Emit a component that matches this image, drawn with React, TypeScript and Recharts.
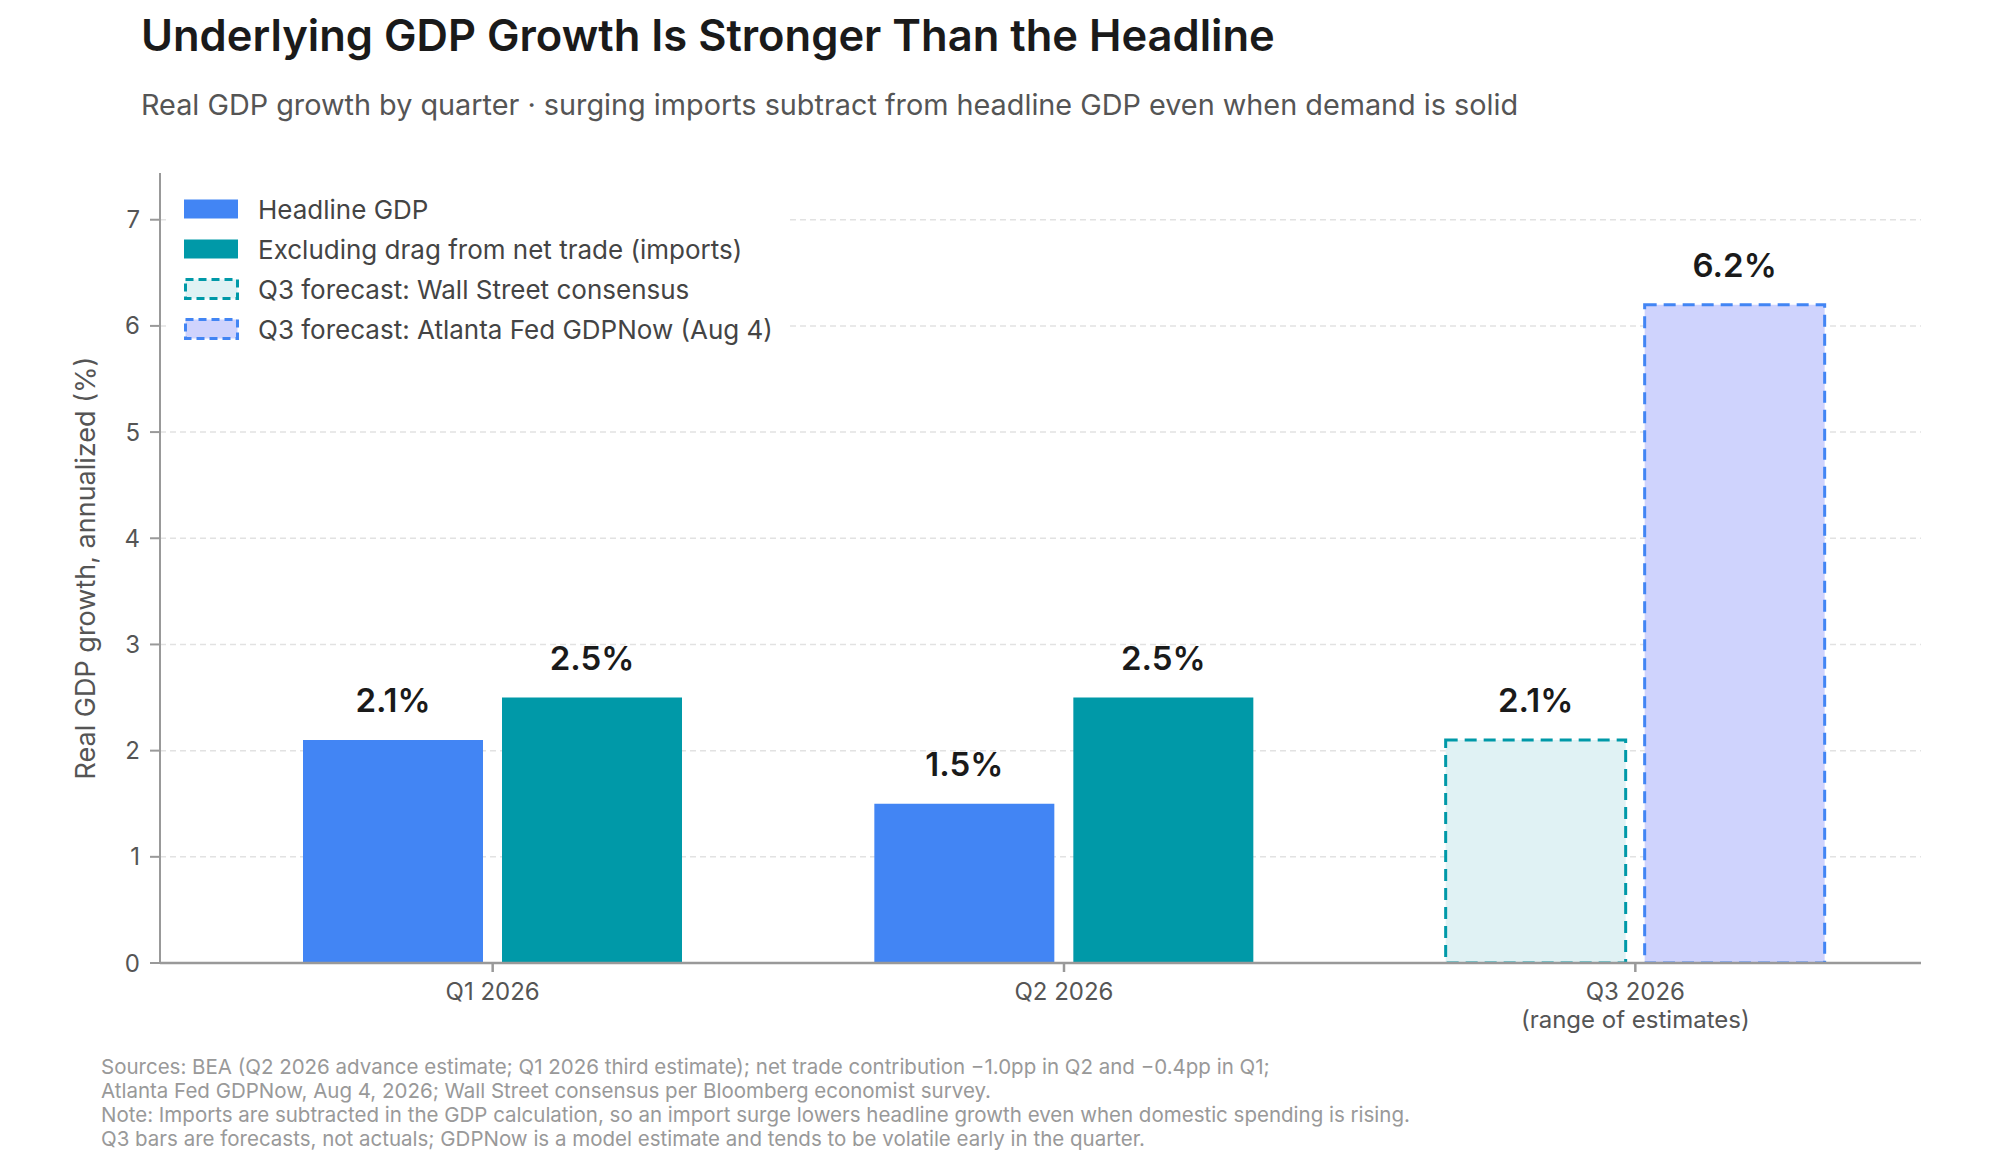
import React from 'react'
import { BarChart, Bar, Cell, XAxis, YAxis, CartesianGrid, Legend, LabelList } from 'recharts'

// values
const quarters = ['Q1 2026', 'Q2 2026', 'Q3 2026']
const quarterNotes = ['', '', '(range of estimates)']
const leftBar = [2.1, 1.5, 2.1] // headline GDP, Q3: Wall Street consensus
const rightBar = [2.5, 2.5, 6.2] // ex net trade, Q3: Atlanta Fed GDPNow
const yTicks = [0, 1, 2, 3, 4, 5, 6, 7]
const legendLabels = [
  'Headline GDP',
  'Excluding drag from net trade (imports)',
  'Q3 forecast: Wall Street consensus',
  'Q3 forecast: Atlanta Fed GDPNow (Aug 4)',
]
const footnotes = [
  'Sources: BEA (Q2 2026 advance estimate; Q1 2026 third estimate); net trade contribution \u22121.0pp in Q2 and \u22120.4pp in Q1;',
  'Atlanta Fed GDPNow, Aug 4, 2026; Wall Street consensus per Bloomberg economist survey.',
  'Note: Imports are subtracted in the GDP calculation, so an import surge lowers headline growth even when domestic spending is rising.',
  'Q3 bars are forecasts, not actuals; GDPNow is a model estimate and tends to be volatile early in the quarter.',
]

const data = quarters.map((q, i) => ({ quarter: q, note: quarterNotes[i], left: leftBar[i], right: rightBar[i] }))

const FONT = 'Inter, "Noto Sans", sans-serif'
const BLUE = '#4285F4'
const TEAL = '#0099A8'
const Y_MAX = 7.44

type Look = { fill: string; stroke?: string }
const looks: Look[] = [
  { fill: BLUE },
  { fill: TEAL },
  { fill: '#E0F2F4', stroke: TEAL },
  { fill: '#CFD3FD', stroke: BLUE },
]
const DASH = '12 7'

const QuarterTick = (props: any) => {
  const { x, y, payload, index } = props
  const note = quarterNotes[index]
  return (
    <text x={x} y={y} textAnchor="middle" fill="#555" fontSize={24} fontFamily={FONT}>
      <tspan x={x} dy={17}>{payload.value}</tspan>
      {note && <tspan x={x} dy={28}>{note}</tspan>}
    </text>
  )
}

// only draw grid lines at the real ticks (not at the top of the domain)
const gridRows = ({ yAxis, offset }: any) => {
  if (yAxis && typeof yAxis.scale === 'function') return yTicks.map((t) => yAxis.scale(t))
  return yTicks.map((t) => offset.top + offset.height * (1 - t / Y_MAX))
}

const renderLegend = () => (
  <div style={{ background: '#fff', padding: '16px 0 14px 16px', fontFamily: FONT }}>
    {legendLabels.map((label, i) => {
      const lk = looks[i]
      return (
        <div key={label} style={{ display: 'flex', alignItems: 'center', height: 40 }}>
          <svg width={56} height={22} style={{ marginRight: 18 }}>
            {lk.stroke ? (
              <rect x={1.5} y={1.5} width={52} height={19} fill={lk.fill} stroke={lk.stroke} strokeWidth={3} strokeDasharray="8 5" />
            ) : (
              <rect x={0} y={1.5} width={54} height={19} fill={lk.fill} />
            )}
          </svg>
          <span style={{ fontSize: 26, color: '#444', whiteSpace: 'nowrap' }}>{label}</span>
        </div>
      )
    })}
  </div>
)

export default function App() {
  return (
    <div style={{ position: 'fixed', left: 0, top: 0, width: 2000, height: 1160, background: '#fff', fontFamily: FONT }}>
      <div style={{ position: 'absolute', left: 141, top: 14, fontSize: 43.5, lineHeight: 1, fontWeight: 600, color: '#1a1a1a', whiteSpace: 'nowrap' }}>
        Underlying GDP Growth Is Stronger Than the Headline
      </div>
      <div style={{ position: 'absolute', left: 141, top: 91, fontSize: 28.8, lineHeight: 1, color: '#555', whiteSpace: 'nowrap' }}>
        Real GDP growth by quarter · surging imports subtract from headline GDP even when demand is solid
      </div>

      <div style={{ position: 'absolute', left: 0, top: 0 }}>
        <BarChart
          width={2000}
          height={1160}
          data={data}
          margin={{ top: 173, right: 79, bottom: 137, left: 10 }}
          barSize={180}
          barGap={19}
        >
          <CartesianGrid
            vertical={false}
            stroke="#e2e2e2"
            strokeDasharray="6 4"
            strokeWidth={1.5}
            horizontalCoordinatesGenerator={gridRows}
          />
          <XAxis
            dataKey="quarter"
            height={60}
            padding={{ left: 47, right: 0 }}
            tick={<QuarterTick />}
            tickSize={9}
            tickMargin={11}
            interval={0}
            stroke="#999"
            strokeWidth={2.5}
          />
          <YAxis
            width={150}
            domain={[0, Y_MAX]}
            ticks={yTicks}
            allowDataOverflow
            tickSize={10}
            tickMargin={10}
            stroke="#999"
            strokeWidth={2}
            tick={{ fill: '#555', fontSize: 24, fontFamily: FONT }}
            label={{ value: 'Real GDP growth, annualized (%)', angle: -90, position: 'center', fill: '#555', fontSize: 27, fontFamily: FONT }}
          />
          <Legend
            layout="vertical"
            align="center"
            verticalAlign="middle"
            content={renderLegend}
            wrapperStyle={{ left: 168, top: 173, width: 622, height: 'auto' }}
          />
          <Bar dataKey="left" isAnimationActive={false}>
            {data.map((d, i) => {
              const lk = i < 2 ? looks[0] : looks[2]
              return <Cell key={d.quarter} fill={lk.fill} stroke={lk.stroke || 'none'} strokeWidth={lk.stroke ? 3 : 0} strokeDasharray={lk.stroke ? DASH : undefined} />
            })}
            <LabelList dataKey="left" position="top" offset={28} formatter={(v: any) => `${Number(v).toFixed(1)}%`} fill="#1a1a1a" fontSize={33} fontWeight={600} fontFamily={FONT} />
          </Bar>
          <Bar dataKey="right" isAnimationActive={false}>
            {data.map((d, i) => {
              const lk = i < 2 ? looks[1] : looks[3]
              return <Cell key={d.quarter} fill={lk.fill} stroke={lk.stroke || 'none'} strokeWidth={lk.stroke ? 3 : 0} strokeDasharray={lk.stroke ? DASH : undefined} />
            })}
            <LabelList dataKey="right" position="top" offset={28} formatter={(v: any) => `${Number(v).toFixed(1)}%`} fill="#1a1a1a" fontSize={33} fontWeight={600} fontFamily={FONT} />
          </Bar>
        </BarChart>
      </div>

      <div style={{ position: 'absolute', left: 101, top: 1055, fontSize: 20.5, lineHeight: '24px', color: '#999', whiteSpace: 'nowrap' }}>
        {footnotes.map((line) => (
          <div key={line}>{line}</div>
        ))}
      </div>
    </div>
  )
}
